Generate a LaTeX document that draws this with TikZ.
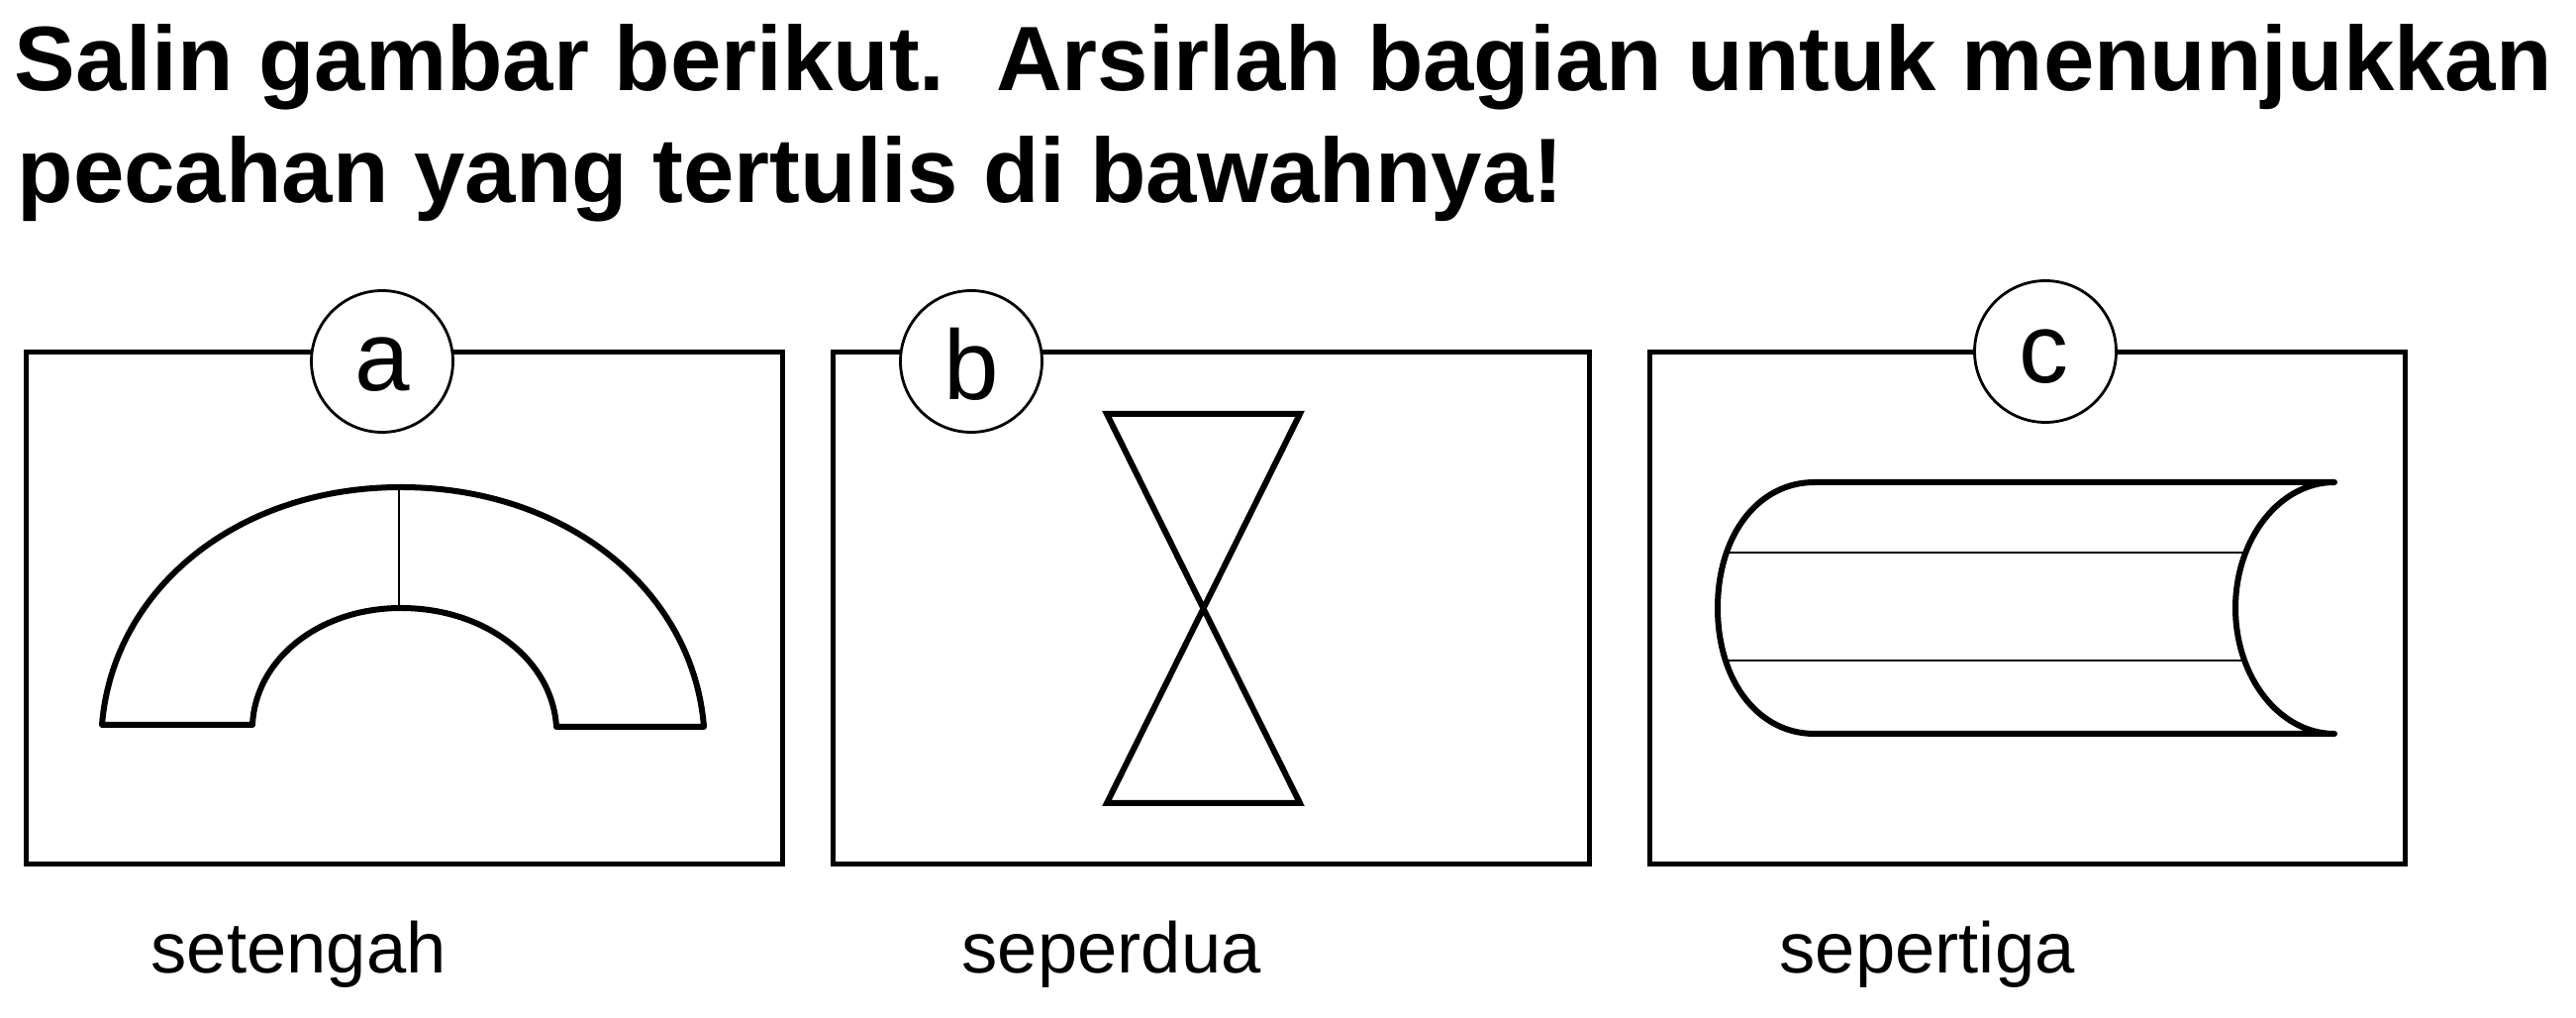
\documentclass[tikz,border=0pt]{standalone}
\usepackage{fontspec}
\setmainfont{Liberation Sans}
\begin{document}
\begin{tikzpicture}[x=0.1mm,y=-0.1mm,
  frame/.style={draw=black,line width=0.5mm},
  figline/.style={draw=black,line width=0.6mm,line join=round,line cap=round},
  thinline/.style={draw=black,line width=0.24mm},
  tag/.style={circle,draw=black,fill=white,line width=0.28mm,minimum size=14.3mm,inner sep=0pt},
  tagtext/.style={inner sep=0pt,font=\fontsize{28.4pt}{30pt}\selectfont},
  titletext/.style={anchor=base west,inner sep=0pt,font=\fontsize{26.3pt}{30pt}\selectfont\bfseries},
  captiontext/.style={anchor=base west,inner sep=0pt,font=\fontsize{20.6pt}{24pt}\selectfont}]
\useasboundingbox (0,0) rectangle (2602,1028);
\fill[white] (0,0) rectangle (2602,1028);

% title
\node[titletext] (t1) at (14,92) {Salin gambar berikut.\ \ Arsirlah bagian untuk menunjukkan};
\node[titletext] (t2) at (17,205) {pecahan yang tertulis di bawahnya!};

% frames
\draw[frame] (26,356) rectangle (790,873);
\draw[frame] (841,356) rectangle (1605,873);
\draw[frame] (1666,356) rectangle (2429,873);

% tags
\node[tag] (ca) at (386,365) {};
\node[tagtext] (la) at (386,368) {a};
\node[tag] (cb) at (981,365) {};
\node[tagtext] (lb) at (981,368) {b};
\node[tag] (cc) at (2066,355) {};
\node[tagtext] (lc) at (2064,360) {c};

% figure a : half ring
\draw[figline] (103,732) .. controls (114,596) and (238,492) .. (405,492)
  .. controls (572,492) and (700,596) .. (711,734)
  -- (562,734)
  .. controls (558,666) and (490,614) .. (405,614)
  .. controls (322,614) and (258,666) .. (255,732) -- cycle;
\draw[thinline] (403,492) -- (403,614);

% figure b : hourglass
\draw[figline,line join=miter] (1118,418) -- (1313,418) -- (1118,811) -- (1313,811) -- cycle;

% figure c : tube
\begin{scope}
\clip (1833,487) -- (2358,487)
  .. controls (2302.8,487) and (2258,543.9) .. (2258,614)
  .. controls (2258,684.1) and (2302.8,741) .. (2358,741)
  -- (1833,741)
  .. controls (1776,741) and (1735,688) .. (1735,614)
  .. controls (1735,540) and (1776,487) .. (1833,487) -- cycle;
\draw[thinline] (1700,558) -- (2400,558);
\draw[thinline] (1700,667) -- (2400,667);
\end{scope}
\draw[figline] (1833,487) -- (2358,487)
  .. controls (2302.8,487) and (2258,543.9) .. (2258,614)
  .. controls (2258,684.1) and (2302.8,741) .. (2358,741)
  -- (1833,741)
  .. controls (1776,741) and (1735,688) .. (1735,614)
  .. controls (1735,540) and (1776,487) .. (1833,487) -- cycle;

% captions
\node[captiontext] (sa) at (152,983) {setengah};
\node[captiontext] (sb) at (971,983) {seperdua};
\node[captiontext] (sc) at (1797,983) {sepertiga};
\end{tikzpicture}
\end{document}
